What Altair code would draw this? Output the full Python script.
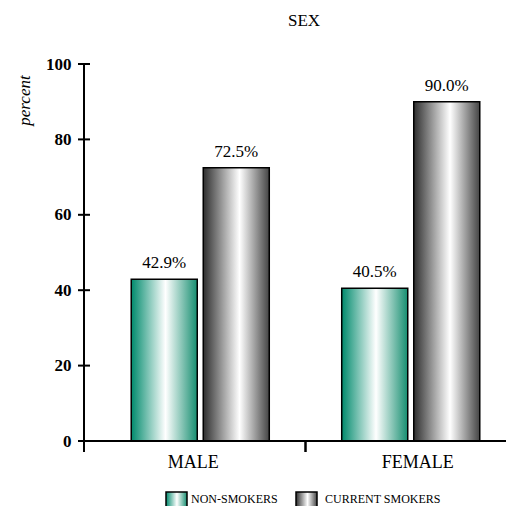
import altair as alt
import pandas as pd

categories = ["Male", "Female"]
series = ["Non-smokers", "Current smokers"]
non_smokers = [42.9, 40.5]
current_smokers = [72.5, 90.0]
y_ticks = [0, 20, 40, 60, 80, 100]

rows = []
for i, c in enumerate(categories):
    rows.append({"sex": c, "group": series[0], "value": non_smokers[i]})
    rows.append({"sex": c, "group": series[1], "value": current_smokers[i]})
df = pd.DataFrame(rows)
df["label"] = df["value"].map(lambda v: f"{v:.1f}%")

W, H = 422, 377
FONT = "Liberation Serif"


def grad(edge_l, mid, edge_r):
    return alt.Gradient(
        gradient="linear", x1=0, x2=1, y1=0, y2=0,
        stops=[
            alt.GradientStop(offset=0, color=edge_l),
            alt.GradientStop(offset=mid, color="#ffffff"),
            alt.GradientStop(offset=1, color=edge_r),
        ],
    )


GREEN = grad("#008a6c", 0.52, "#168e70")
GREY = grad("#2e2e2e", 0.55, "#444444")

x_axis = alt.Axis(title=None, domain=False, ticks=False, grid=False, labelExpr="upper(datum.label)",
                  labelFont=FONT, labelFontSize=18, labelPadding=12, labelColor="black",
                  labelAngle=0,
                  labelOffset={"condition": {"test": "datum.value === 'Male'", "value": -7}, "value": 7})
x_scale = alt.Scale(range=[11, 432], paddingInner=0, paddingOuter=0)
x_enc = alt.X("sex:N", sort=categories, scale=x_scale, axis=x_axis)
xoff = alt.XOffset("group:N", sort=series, scale=alt.Scale(paddingInner=0.0833, paddingOuter=0.503))
y_axis = alt.Axis(values=y_ticks, title="percent", titleFont=FONT, titleFontSize=17,
                  titleFontStyle="italic", titleFontWeight="normal", titleColor="black",
                  titleX=-60, titleY=36, titleAngle=270, titleAlign="center", titleBaseline="middle",
                  domain=False, ticks=False, grid=False, labelFont=FONT, labelFontSize=17,
                  labelFontWeight="bold", labelPadding=13, labelColor="black")
y_scale = alt.Scale(domain=[0, 100], nice=False)
y_enc = alt.Y("value:Q", scale=y_scale, axis=y_axis)

base = alt.Chart(df)

bars_g = base.transform_filter(alt.datum.group == series[0]).mark_bar(
    color=GREEN, stroke="black", strokeWidth=1.5).encode(x=x_enc, xOffset=xoff, y=y_enc)
bars_c = base.transform_filter(alt.datum.group == series[1]).mark_bar(
    color=GREY, stroke="black", strokeWidth=1.5).encode(x=x_enc, xOffset=xoff, y=y_enc)
labels = base.mark_text(baseline="bottom", dy=-7, font=FONT, fontSize=17, color="black").encode(
    x=x_enc, xOffset=xoff, y=y_enc, text="label:N")

tick_df = pd.DataFrame({"value": y_ticks})
yticks = alt.Chart(tick_df).mark_tick(orient="horizontal", size=12, thickness=2, color="black", opacity=1).encode(
    y=y_enc, x=alt.value(0))

yline = alt.Chart(tick_df).mark_rule(color="black", strokeWidth=2).encode(
    x=alt.value(0), y=alt.value(0), y2=alt.value(H + 11))
xline = alt.Chart(tick_df).mark_rule(color="black", strokeWidth=2).encode(
    x=alt.value(0), x2=alt.value(W), y=alt.value(H))

mid_df = pd.DataFrame({"sex": [categories[0]]})
midtick = alt.Chart(mid_df).mark_tick(orient="vertical", size=11, thickness=2.5, color="black", opacity=1).encode(
    x=alt.X("sex:N", sort=categories, bandPosition=1, scale=x_scale, axis=x_axis), y=alt.value(H + 5.5))

leg_df = pd.DataFrame({"name": [series[0]]})
leg1 = alt.Chart(leg_df).mark_rect(color=GREEN, stroke="black", strokeWidth=1.5).encode(
    x=alt.value(82), x2=alt.value(103), y=alt.value(H + 51), y2=alt.value(H + 66))
leg2 = alt.Chart(leg_df).mark_rect(color=GREY, stroke="black", strokeWidth=1.5).encode(
    x=alt.value(212), x2=alt.value(233), y=alt.value(H + 51), y2=alt.value(H + 66))
legt1 = alt.Chart(leg_df).mark_text(align="left", baseline="alphabetic", font=FONT, fontSize=12, color="black").encode(
    x=alt.value(107), y=alt.value(H + 62), text=alt.value(series[0].upper()))
legt2 = alt.Chart(leg_df).mark_text(align="left", baseline="alphabetic", font=FONT, fontSize=12, color="black").encode(
    x=alt.value(241), y=alt.value(H + 62), text=alt.value(series[1].upper()))

chart = alt.layer(
    bars_g, bars_c, labels, yticks, yline, xline, midtick, leg1, leg2, legt1, legt2
).properties(
    width=W, height=H,
    title=alt.TitleParams("SEX", font=FONT, fontSize=17, fontWeight="normal", anchor="middle",
                          offset=25, dx=9, color="black"),
    autosize=alt.AutoSizeParams(type="none"),
    padding={"left": 76, "top": 56, "right": 0, "bottom": 65},
).configure(background="white", view=alt.ViewConfig(stroke=None))

chart.save("out.html", embed_options={"renderer": "svg", "actions": False})
